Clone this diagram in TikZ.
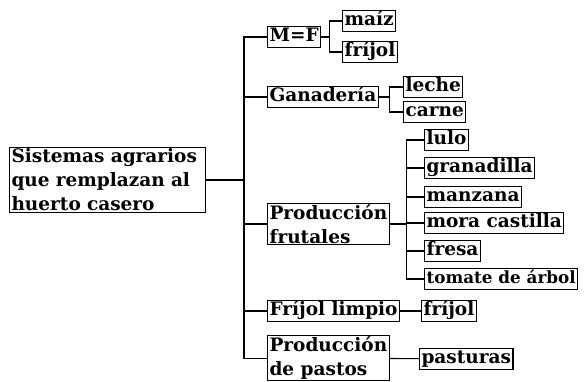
\documentclass[tikz,border=0pt]{standalone}
\usepackage{fontspec}
\setmainfont{DejaVu Serif}
\usepackage{tikz}

\begin{document}
\begin{tikzpicture}[
    x=1pt, y=-1pt,
    box/.style={draw, line width=1.1pt, anchor=west, align=left,
                inner xsep=2pt, inner ysep=1.2pt,
                text height=14pt, text depth=4.5pt,
                font=\bfseries\fontsize{18.5}{24}\selectfont},
    mbox/.style={draw, line width=1.1pt, anchor=west, align=left,
                 inner xsep=2pt, inner ysep=1.2pt,
                 font=\bfseries\fontsize{18.5}{24}\selectfont},
    link/.style={line width=1.1pt},
]
    \useasboundingbox (0,0) rectangle (584,381);

    \node[mbox, text width=192pt] (root) at (9,180)
        {Sistemas agrarios\\que remplazan al\\huerto casero};

    \node[box]  (mf)    at (267,37)  {M=F};
    \node[box]  (gan)   at (267,97)  {Ganadería};
    \node[mbox] (frut)  at (267,224) {Producción\\frutales};
    \node[box]  (flimp) at (267,311) {Fríjol limpio};
    \node[mbox, anchor=north west] (past) at (267,335) {Producción\\de pastos};

    \node[box] (maiz)   at (342,21)  {maíz};
    \node[box] (frijA)  at (342,52)  {fríjol};
    \node[box] (leche)  at (403,87)  {leche};
    \node[box] (carne)  at (403,112) {carne};
    \node[box] (lulo)   at (424,140) {lulo};
    \node[box] (gran)   at (424,168) {granadilla};
    \node[box] (manz)   at (424,197) {manzana};
    \node[box] (mora)   at (424,223) {mora castilla};
    \node[box] (fresa)  at (424,251) {fresa};
    \node[box, font=\bfseries\fontsize{16.8}{24}\selectfont]
               (tomate) at (424,279) {tomate de árbol};
    \node[box] (frijB)  at (421,311) {fríjol};
    \node[box] (pastur) at (419,359) {pasturas};

    \foreach \b in {mf, gan, frut, flimp, past}
        \draw[link] (root.east) -- (244,180) |- (\b.west);
    \foreach \b in {maiz, frijA}
        \draw[link] (mf.east) -- ++(8,0) |- (\b.west);
    \foreach \b in {leche, carne}
        \draw[link] (gan.east) -- ++(11,0) |- (\b.west);
    \foreach \b in {lulo, gran, manz, mora, fresa, tomate}
        \draw[link] (frut.east) -- ++(17,0) |- (\b.west);
    \draw[link] (flimp) -- (frijB);
    \draw[link] (past) -- (pastur);
\end{tikzpicture}
\end{document}
